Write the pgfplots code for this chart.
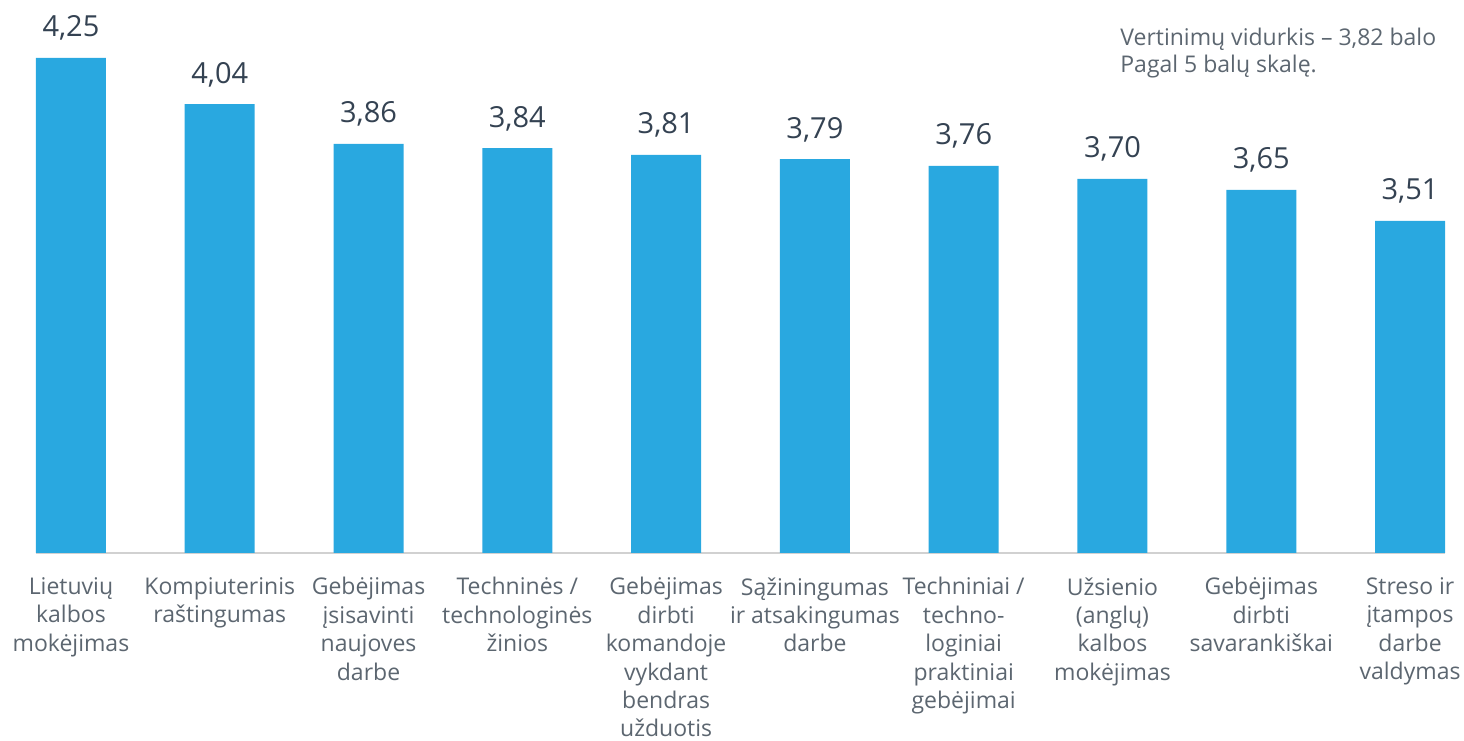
\documentclass[border=0pt]{standalone}
\usepackage{pgfplots}
\pgfplotsset{compat=1.18}
\usepackage{fontspec}
\setmainfont{Open Sans}
\definecolor{barblue}{RGB}{41,168,224}
\definecolor{labelgray}{RGB}{92,102,112}
\definecolor{valuegray}{RGB}{52,66,82}
\begin{document}
\begin{tikzpicture}
\begin{axis}[
  scale only axis,
  width=704.5pt, height=275pt,
  xmin=-0.235, xmax=9.235,
  ymin=2, ymax=4.5,
  axis x line*=bottom,
  axis y line=none,
  x axis line style={draw=black!18, line width=1pt, -},
  xtick=data,
  major tick length=0pt,
  xtick style={draw=none},
  xticklabels={
    {Lietuvių\\kalbos\\mokėjimas},
    {Kompiuterinis\\raštingumas},
    {Gebėjimas\\įsisavinti\\naujoves\\darbe},
    {Techninės /\\technologinės\\žinios},
    {Gebėjimas\\dirbti\\komandoje\\vykdant\\bendras\\užduotis},
    {Sąžiningumas\\ir atsakingumas\\darbe},
    {Techniniai /\\techno-\\loginiai\\praktiniai\\gebėjimai},
    {Užsienio\\(anglų)\\kalbos\\mokėjimas},
    {Gebėjimas\\dirbti\\savarankiškai},
    {Streso ir\\įtampos\\darbe\\valdymas}},
  xticklabel style={align=center, font=\fontsize{11.5}{14.2}\selectfont,
    text=labelgray, anchor=north, inner sep=0pt, yshift=-12pt},
  ybar, bar width=35pt,
  nodes near coords,
  every node near coord/.append style={font=\fontsize{14.5}{17}\selectfont,
    text=valuegray, inner sep=0pt, anchor=base, yshift=10.5pt},
  /pgf/number format/use comma,
  /pgf/number format/fixed,
  /pgf/number format/fixed zerofill,
  /pgf/number format/precision=2,
  /pgf/number format/assume math mode=true,
  clip=false,
]
\addplot[fill=barblue, draw=none] coordinates {
  (0,4.25)(1,4.04)(2,3.86)(3,3.84)(4,3.81)
  (5,3.79)(6,3.76)(7,3.70)(8,3.65)(9,3.51)};
\node[anchor=north west, align=left, inner sep=0pt, text=labelgray,
  font=\fontsize{11.5}{13.5}\selectfont] at (rel axis cs:0.7693,0.9545)
  {Vertinimų vidurkis – 3,82 balo\\Pagal 5 balų skalę.};
\coordinate (bbA) at (rel axis cs:-0.02555,-0.3418);
\coordinate (bbB) at (rel axis cs:1.01348,1.00545);
\end{axis}
\pgfresetboundingbox
\path[use as bounding box] (bbA) rectangle (bbB);
\end{tikzpicture}
\end{document}
